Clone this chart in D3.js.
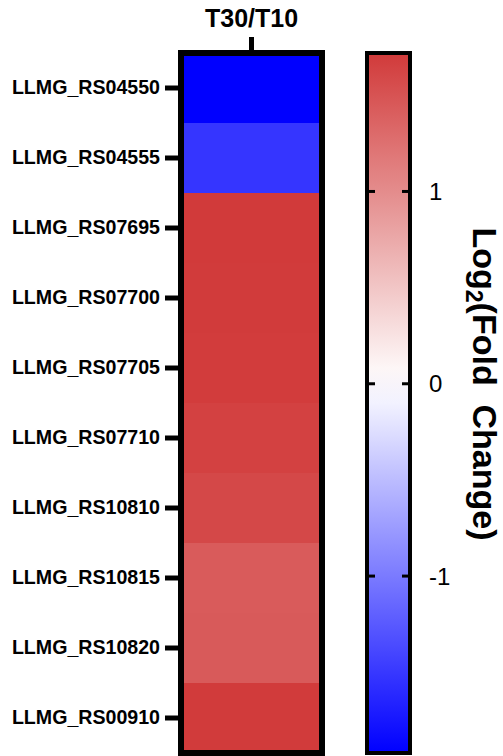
<!DOCTYPE html>
<html>
<head>
<meta charset="utf-8">
<script src="https://cdn.jsdelivr.net/npm/d3@7"></script>
<style>
  body { margin: 0; background: #fff; }
  svg { display: block; font-family: "Liberation Sans", Arial, sans-serif; }
</style>
</head>
<body>
<div id="chart"></div>
<script>
// data
const genes = ["LLMG_RS04550", "LLMG_RS04555", "LLMG_RS07695", "LLMG_RS07700", "LLMG_RS07705",
               "LLMG_RS07710", "LLMG_RS10810", "LLMG_RS10815", "LLMG_RS10820", "LLMG_RS00910"]
const columns = ["T30/T10"]
const log2fc = [-1.92, -1.52, 1.72, 1.71, 1.70, 1.66, 1.60, 1.43, 1.44, 1.71]
const colorTicks = [1, 0, -1]
const colorDomain = [-1.92, 0, 1.72]
const colorRange = ["#0000ff", "#ffffff", "#d13a3a"]

const width = 503, height = 756

const svg = d3.select("#chart").append("svg")
    .attr("width", width)
    .attr("height", height)

const color = d3.scaleLinear().domain(colorDomain).range(colorRange)

// heatmap
const hm = { left: 181, right: 322, top: 53, bottom: 753 }

const x = d3.scaleBand().domain(columns).range([hm.left, hm.right])
const y = d3.scaleBand().domain(genes).range([hm.top, hm.bottom])

svg.append("g")
    .selectAll("rect")
    .data(genes.map((g, i) => ({ gene: g, col: columns[0], v: log2fc[i] })))
    .join("rect")
    .attr("x", d => x(d.col))
    .attr("y", d => y(d.gene))
    .attr("width", x.bandwidth())
    .attr("height", y.bandwidth() + 0.5)
    .attr("fill", d => color(d.v))

svg.append("rect")
    .attr("x", hm.left).attr("y", hm.top)
    .attr("width", hm.right - hm.left).attr("height", hm.bottom - hm.top)
    .attr("fill", "none")
    .attr("stroke", "#000")
    .attr("stroke-width", 6)

// row axis
const yAxis = svg.append("g")
    .attr("transform", "translate(178,0)")
    .call(d3.axisLeft(y).tickSize(13).tickPadding(5))
yAxis.select(".domain").remove()
yAxis.selectAll(".tick line").attr("stroke", "#000").attr("stroke-width", 5)
yAxis.selectAll(".tick text")
    .attr("fill", "#000")
    .style("font-size", "19.6px")
    .style("font-weight", "bold")

// column axis
const xAxis = svg.append("g")
    .attr("transform", "translate(0,50)")
    .call(d3.axisTop(x).tickSize(13).tickPadding(10))
xAxis.select(".domain").remove()
xAxis.selectAll(".tick line").attr("stroke", "#000").attr("stroke-width", 5)
xAxis.selectAll(".tick text")
    .attr("fill", "#000")
    .style("font-size", "25px")
    .style("font-weight", "bold")

// colour bar
const cb = { left: 367, right: 410, top: 53, bottom: 753 }
const cy = d3.scaleLinear()
    .domain([colorDomain[0], colorDomain[2]])
    .range([cb.bottom, cb.top])

const grad = svg.append("defs").append("linearGradient")
    .attr("id", "cbar")
    .attr("x1", 0).attr("y1", 1).attr("x2", 0).attr("y2", 0)
grad.selectAll("stop")
    .data(d3.range(0, 1.0001, 0.05))
    .join("stop")
    .attr("offset", d => d)
    .attr("stop-color", d => color(colorDomain[0] + d * (colorDomain[2] - colorDomain[0])))

svg.append("rect")
    .attr("x", cb.left).attr("y", cb.top)
    .attr("width", cb.right - cb.left).attr("height", cb.bottom - cb.top)
    .attr("fill", "url(#cbar)")
    .attr("stroke", "#000")
    .attr("stroke-width", 4)

// inward ticks on both edges
const cbTicks = svg.append("g")
cbTicks.selectAll("line.l")
    .data(colorTicks)
    .join("line")
    .attr("x1", cb.left).attr("x2", cb.left + 8)
    .attr("y1", d => cy(d)).attr("y2", d => cy(d))
cbTicks.selectAll("line.r")
    .data(colorTicks)
    .enter().append("line")
    .attr("x1", cb.right - 8).attr("x2", cb.right)
    .attr("y1", d => cy(d)).attr("y2", d => cy(d))
cbTicks.selectAll("line").attr("stroke", "#000").attr("stroke-width", 3)

svg.append("g")
    .selectAll("text")
    .data(colorTicks)
    .join("text")
    .attr("x", 429)
    .attr("y", d => cy(d))
    .attr("dy", "0.36em")
    .style("font-size", "24px")
    .attr("fill", "#000")
    .text(d => d3.format("")(d).replace("\u2212", "-"))

// colour bar title
const title = svg.append("text")
    .attr("transform", "translate(473,384) rotate(90)")
    .attr("text-anchor", "middle")
    .style("font-size", "34px")
    .style("font-weight", "bold")
    .style("white-space", "pre")
    .attr("fill", "#000")
title.append("tspan").text("Log")
title.append("tspan").attr("dy", 7).style("font-size", "23px").text("2")
title.append("tspan").attr("dy", -7).text("(Fold  Change)")
</script>
</body>
</html>
